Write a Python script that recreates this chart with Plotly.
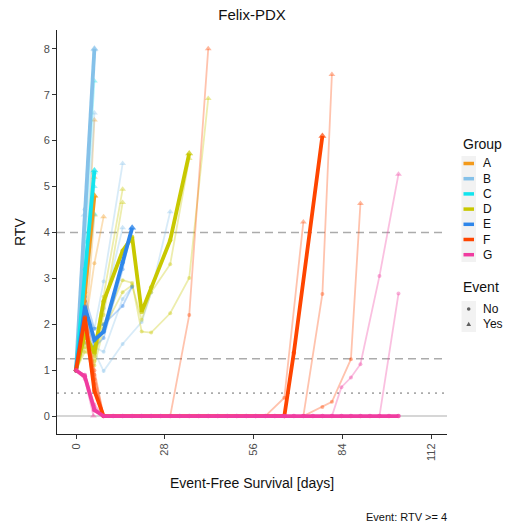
import plotly.graph_objects as go

# ---------------- data ----------------
groups = ["A", "B", "C", "D", "E", "F", "G"]
group_colors = ["#F39A1B", "#85C1E9", "#12E4EE", "#C8C800", "#2E86EA", "#FF4500", "#F03CA0"]
event_labels = ["No", "Yes"]
x_ticks = [0, 28, 56, 84, 112]
y_ticks = [0, 1, 2, 3, 4, 5, 6, 7, 8]
ref_dashed = [4, 1.25]
ref_dotted = [0.5]

# Group A
A_med_days = [0, 2.8, 5.8]
A_med_rtv = [1, 2.7, 4.8]
A_med_event = 1
A_days = [[0, 2.8, 5.8], [0, 2.8, 5.8, 8.7], [0, 2.8, 5.8], [0, 2.8, 5.8]]
A_rtv = [[1, 2.4, 6.45], [1, 1.9, 3.33, 4.34], [1, 2.1, 5.2], [1, 1.7, 4.38]]
A_event = [1, 1, 1, 1]

# Group B
B_med_days = [0, 2.8, 5.8]
B_med_rtv = [1, 4.5, 8.0]
B_med_event = 1
B_days = [[0, 2.8, 5.8], [0, 2.8, 5.8], [0, 2.5], [0, 2.8, 5.8, 8.7, 14.7],
          [0, 2.8, 5.8, 8.7, 14.7], [0, 2.8, 5.8, 8.7, 14.7, 20.7, 23.7, 29.7],
          [0, 2.8, 5.8, 8.7, 14.7, 17.7]]
B_rtv = [[1, 4.0, 7.98], [1, 3.1, 6.6], [1, 4.38], [1, 2.3, 1.9, 2.93, 5.5],
         [1, 2.0, 1.6, 2.35, 4.1], [1, 1.6, 1.4, 0.98, 1.57, 2.05, 2.69, 4.45],
         [1, 1.9, 1.5, 1.4, 2.55, 2.82]]
B_event = [1, 1, 1, 1, 1, 1, 0]

# Group C
C_med_days = [0, 2.8, 5.8]
C_med_rtv = [1, 3.2, 5.35]
C_med_event = 1
C_days = [[0, 2.8, 5.8], [0, 2.8, 5.8], [0, 2.8, 5.8], [0, 2.8, 5.8]]
C_rtv = [[1, 3.8, 7.3], [1, 3.3, 5.3], [1, 2.9, 5.0], [1, 2.6, 4.4]]
C_event = [1, 1, 1, 1]

# Group D
D_med_days = [0, 2.8, 5.8, 8.7, 14.7, 17.7, 20.7, 23.7, 29.7, 35.7]
D_med_rtv = [1, 1.8, 1.37, 2.5, 3.6, 3.9, 2.27, 2.8, 3.83, 5.72]
D_med_event = 1
D_days = [[0, 2.8, 5.8], [0, 2.8, 5.8, 8.7, 14.7], [0, 2.8, 5.8, 8.7, 14.7],
          [0, 2.8, 5.8, 8.7, 14.7, 17.7, 20.7, 23.7, 29.7, 35.7, 41.7],
          [0, 2.8, 5.8, 8.7, 14.7, 17.7, 20.7, 23.7, 29.7, 35.7]]
D_rtv = [[1, 2.5, 4.8], [1, 1.7, 1.5, 2.6, 4.94], [1, 1.5, 1.2, 2.2, 4.65],
         [1, 1.4, 1.3, 2.0, 2.96, 2.9, 1.84, 1.82, 2.24, 3.01, 6.92],
         [1, 1.6, 1.1, 1.9, 2.7, 2.85, 2.1, 2.7, 3.31, 5.61]]
D_event = [1, 1, 1, 1, 1]

# Group E
E_med_days = [0, 2.8, 5.8, 8.7, 14.7, 17.7]
E_med_rtv = [1, 2.38, 1.66, 1.84, 3.35, 4.1]
E_med_event = 1
E_days = [[0, 2.8, 5.8, 8.7, 14.7, 17.7], [0, 2.8, 5.8, 8.7, 14.7, 17.7]]
E_rtv = [[1, 2.6, 1.9, 2.0, 2.4, 2.82], [1, 2.2, 1.5, 1.7, 3.2, 4.1]]
E_event = [0, 1]

# Group F
F_med_days = [0, 2.8, 5.8, 8.7, 65.7, 68.7, 77.7]
F_med_rtv = [1, 2.15, 0.55, 0, 0, 1.38, 6.1]
F_med_event = 1
F_days = [[0, 2.8, 5.8, 8.7, 29.7, 35.7, 41.7], [0, 2.8, 5.8, 8.7, 59.7, 65.7, 71.7],
          [0, 2.8, 5.8, 8.7, 71.7, 77.7, 80.7], [0, 2.8, 5.8, 8.7, 71.7, 77.7, 80.7, 86.7, 89.7],
          [0, 2.8, 5.8, 8.7, 53.7]]
F_rtv = [[1, 2.3, 0.8, 0, 0, 2.2, 8.0], [1, 2.5, 1.0, 0, 0, 0.4, 4.23],
         [1, 2.0, 0.7, 0, 0, 2.66, 7.44], [1, 1.8, 0.6, 0, 0, 0.2, 0.31, 1.24, 4.63],
         [1, 2.2, 0.9, 0, 0]]
F_event = [1, 1, 1, 1, 0]

# Group G
G_med_days = [0, 2.8, 5.8, 8.7, 11.7, 14.7, 17.7, 20.7, 23.7, 26.7, 29.7, 32.7, 35.7, 38.7,
              41.7, 44.7, 47.7, 50.7, 53.7, 56.7, 59.7, 62.7, 65.7, 68.7, 71.7, 74.7, 77.7,
              80.7, 83.7, 86.7, 89.7, 92.7, 95.7, 98.7, 101.7]
G_med_rtv = [1, 0.86, 0.13, 0, 0, 0, 0, 0, 0, 0, 0, 0, 0, 0, 0, 0, 0, 0, 0, 0, 0, 0, 0, 0,
             0, 0, 0, 0, 0, 0, 0, 0, 0, 0, 0]
G_med_event = 0
G_days = [[0, 2.8, 5.5], [0, 2.8, 5.8, 8.7, 80.7, 83.7, 86.7, 89.7, 95.7, 101.7],
          [0, 2.8, 5.8, 8.7, 95.7, 101.7], [0, 2.8, 5.8, 8.7, 101.7]]
G_rtv = [[1, 0.8, 0], [1, 0.9, 0.25, 0, 0, 0.63, 0.84, 1.13, 3.05, 5.27],
         [1, 0.85, 0.15, 0, 0, 2.67], [1, 0.9, 0.2, 0, 0]]
G_event = [1, 1, 0, 0]

thin = {
    "A": (A_days, A_rtv, A_event), "B": (B_days, B_rtv, B_event),
    "C": (C_days, C_rtv, C_event), "D": (D_days, D_rtv, D_event),
    "E": (E_days, E_rtv, E_event), "F": (F_days, F_rtv, F_event),
    "G": (G_days, G_rtv, G_event),
}
med = {
    "A": (A_med_days, A_med_rtv, A_med_event), "B": (B_med_days, B_med_rtv, B_med_event),
    "C": (C_med_days, C_med_rtv, C_med_event), "D": (D_med_days, D_med_rtv, D_med_event),
    "E": (E_med_days, E_med_rtv, E_med_event), "F": (F_med_days, F_med_rtv, F_med_event),
    "G": (G_med_days, G_med_rtv, G_med_event),
}

# ---------------- helpers ----------------
W, H = 506, 525
ML, MR, MT, MB = 57, 59, 30, 91
PW, PH = W - ML - MR, H - MT - MB


def px(x):
    return (x - ML) / PW


def py(y):
    return (H - MB - y) / PH


def rgba(hexc, a):
    hexc = hexc.lstrip("#")
    r, g, b = int(hexc[0:2], 16), int(hexc[2:4], 16), int(hexc[4:6], 16)
    return f"rgba({r},{g},{b},{a})"


FONT = "Liberation Sans, Arial, Helvetica, sans-serif"
fig = go.Figure()


def add_series(days, rtv, event, color, la, ma, width, ms, ts):
    n = len(days)
    sym = ["circle"] * (n - 1) + ["triangle-up" if event else "circle"]
    size = [ms] * (n - 1) + [ts if event else ms]
    fig.add_trace(go.Scatter(
        x=days, y=rtv, mode="lines+markers",
        line=dict(color=rgba(color, la), width=width),
        marker=dict(symbol=sym, size=size, color=rgba(color, ma), line=dict(width=0)),
        showlegend=False, hoverinfo="skip"))


for g, c in zip(groups, group_colors):
    dd, rr, ee = thin[g]
    for d, r, e in zip(dd, rr, ee):
        add_series(d, r, e, c, 0.32, 0.55, 1.8, 4, 6)

for g, c in zip(groups, group_colors):
    d, r, e = med[g]
    add_series(d, r, e, c, 1.0, 1.0, 3.8, 4.5, 7)

shapes = []
for yv in ref_dashed:
    shapes.append(dict(type="line", xref="paper", yref="y", x0=0, x1=1, y0=yv, y1=yv,
                       line=dict(color="#ABABAB", width=1.6, dash="8px,5px"), layer="below"))
for yv in ref_dotted:
    shapes.append(dict(type="line", xref="paper", yref="y", x0=0, x1=1, y0=yv, y1=yv,
                       line=dict(color="#ABABAB", width=1.6, dash="2px,5px"), layer="below"))
shapes.append(dict(type="line", xref="paper", yref="y", x0=0, x1=1, y0=0, y1=0,
                   line=dict(color="#C8C8C8", width=1.5), layer="below"))

annotations = []
# axis titles
annotations.append(dict(text="Event-Free Survival [days]", xref="paper", yref="paper",
                        x=px(252), y=py(483), showarrow=False, xanchor="center", yanchor="middle",
                        font=dict(size=14, color="#111", family=FONT)))
annotations.append(dict(text="RTV", xref="paper", yref="paper", x=px(20), y=py(232),
                        showarrow=False, textangle=-90, xanchor="center", yanchor="middle",
                        font=dict(size=14, color="#111", family=FONT)))
annotations.append(dict(text="Event: RTV >= 4", xref="paper", yref="paper", x=px(449), y=py(517),
                        showarrow=False, xanchor="right", yanchor="middle",
                        font=dict(size=11, color="#111", family=FONT)))

# manual legend (Group)
key_x0, key_x1 = 461.5, 476
annotations.append(dict(text="Group", xref="paper", yref="paper", x=px(461), y=py(144),
                        showarrow=False, xanchor="left", yanchor="middle",
                        font=dict(size=14, color="#111", family=FONT)))
item_y = [163.5, 178.7, 193.9, 209.1, 224.3, 239.5, 254.7]
shapes.append(dict(type="rect", xref="paper", yref="paper", x0=px(key_x0), x1=px(key_x1),
                   y0=py(156), y1=py(262), fillcolor="#F2F2F2", line=dict(width=0), layer="below"))
for g, c, yy in zip(groups, group_colors, item_y):
    shapes.append(dict(type="line", xref="paper", yref="paper", x0=px(463.5), x1=px(474),
                       y0=py(yy), y1=py(yy), line=dict(color=c, width=3.5)))
    annotations.append(dict(text=g, xref="paper", yref="paper", x=px(481.5), y=py(yy),
                            showarrow=False, xanchor="left", yanchor="middle",
                            font=dict(size=12, color="#111", family=FONT)))

# manual legend (Event)
annotations.append(dict(text="Event", xref="paper", yref="paper", x=px(461), y=py(287),
                        showarrow=False, xanchor="left", yanchor="middle",
                        font=dict(size=14, color="#111", family=FONT)))
shapes.append(dict(type="rect", xref="paper", yref="paper", x0=px(key_x0), x1=px(key_x1),
                   y0=py(301), y1=py(332), fillcolor="#F2F2F2", line=dict(width=0), layer="below"))
ev_y = [309, 324]
cx = 468.7
shapes.append(dict(type="circle", xref="paper", yref="paper", x0=px(cx - 1.8), x1=px(cx + 1.8),
                   y0=py(ev_y[0] + 1.8), y1=py(ev_y[0] - 1.8), fillcolor="#606060",
                   line=dict(width=0)))
ty = ev_y[1]
shapes.append(dict(type="path", xref="paper", yref="paper",
                   path=f"M {px(cx - 2.4)} {py(ty + 2)} L {px(cx + 2.4)} {py(ty + 2)} L {px(cx)} {py(ty - 2.3)} Z",
                   fillcolor="#606060", line=dict(width=0)))
for lab, yy in zip(event_labels, ev_y):
    annotations.append(dict(text=lab, xref="paper", yref="paper", x=px(481.5), y=py(yy),
                            showarrow=False, xanchor="left", yanchor="middle",
                            font=dict(size=12, color="#111", family=FONT)))

fig.update_layout(
    width=W, height=H,
    margin=dict(l=ML, r=MR, t=MT, b=MB, autoexpand=False),
    paper_bgcolor="white", plot_bgcolor="white",
    title=dict(text="Felix-PDX", x=px(252), xref="paper", xanchor="center",
               y=1 - 15 / H, yref="container", yanchor="middle",
               font=dict(size=15, color="#111", family=FONT)),
    font=dict(family=FONT),
    showlegend=False,
    hovermode=False,
    shapes=shapes,
    annotations=annotations,
    xaxis=dict(range=[-6, 117], tickvals=x_ticks, ticktext=[str(v) for v in x_ticks],
               tickangle=-90, ticks="outside", ticklen=4, tickcolor="#333", tickwidth=1,
               tickfont=dict(size=11, color="#4D4D4D", family=FONT),
               showline=True, linecolor="#222", linewidth=1, showgrid=False, zeroline=False),
    yaxis=dict(range=[-0.39, 8.41], tickvals=y_ticks, ticks="outside", ticklen=4,
               tickcolor="#333", tickwidth=1,
               tickfont=dict(size=11, color="#4D4D4D", family=FONT),
               showline=True, linecolor="#222", linewidth=1, showgrid=False, zeroline=False),
)

fig.write_html("out.html", config={"displayModeBar": False, "staticPlot": True},
               post_script="document.body.style.margin='0';document.body.style.overflow='hidden';")
